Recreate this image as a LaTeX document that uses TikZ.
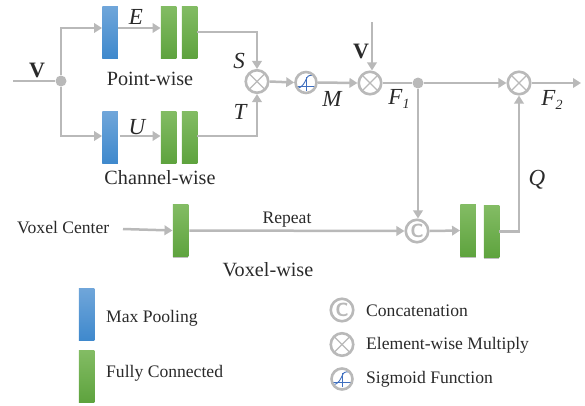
\documentclass[tikz,border=0pt]{standalone}
\usepackage{fontspec}
\setmainfont{Liberation Serif}
\usetikzlibrary{arrows.meta}
\definecolor{ln}{HTML}{B9B9B9}
\definecolor{tx}{HTML}{2A2A2A}
\tikzset{
  blk/.style={minimum width=15.5pt,minimum height=52pt,inner sep=0pt,draw=none,
    preaction={fill=black!55,opacity=.45,transform canvas={yshift=-1.2pt}}},
  bluebk/.style={blk,top color=blue1,bottom color=blue2},
  greenbk/.style={blk,top color=green1,bottom color=green2},
  conn/.style={draw=ln,line width=2.5pt,-{Triangle[length=8pt,width=9.5pt]}},
  plain/.style={draw=ln,line width=2.5pt},
  dot/.style={circle,fill=ln,minimum size=11pt,inner sep=0pt},
  opc/.style={circle,draw=ln,line width=2.6pt,minimum size=22.5pt,inner sep=0pt,fill=white},
  mul/.style={opc,path picture={\draw[ln,line width=1.2pt]
     (path picture bounding box.north west)--(path picture bounding box.south east)
     (path picture bounding box.north east)--(path picture bounding box.south west);}},
  sig/.style={opc,minimum size=21pt,path picture={\draw[sigc,line width=.9pt]
     (path picture bounding box.center)++(-10pt,-3.5pt)--++(20pt,0pt)
     (path picture bounding box.center)++(0pt,-8pt)--++(0pt,14pt);
     \draw[sigc,line width=.9pt] (path picture bounding box.center)++(-9pt,-6pt) to[out=10,in=245] ++(10pt,11pt) to[out=65,in=180] ++(8pt,2pt);}},
  cat/.style={opc,font=\fontsize{19}{19}\selectfont\sffamily\bfseries\color{ln}},
  txt/.style={text=tx,font=\fontsize{17.6}{19}\selectfont,inner sep=0pt},
  big/.style={text=tx,font=\fontsize{20.2}{22}\selectfont,inner sep=0pt},
  sym/.style={text=tx,font=\fontsize{23}{25}\selectfont\itshape,inner sep=0pt},
  vec/.style={text=tx,font=\fontsize{22}{24}\selectfont\bfseries,inner sep=0pt},
}
\definecolor{blue1}{HTML}{70A6DA}
\definecolor{blue2}{HTML}{3F89CD}
\definecolor{green1}{HTML}{83BC64}
\definecolor{green2}{HTML}{5EA33E}
\definecolor{sigc}{HTML}{3F6FBF}
\begin{document}
\begin{tikzpicture}[x=1pt,y=-1pt]
\useasboundingbox (0,0) rectangle (585,405);
% blocks
\node[bluebk]  (b1) at (110,32) {};
\node[greenbk] (g1) at (168.5,32) {};
\node[greenbk] (g2) at (189.5,32) {};
\node[bluebk]  (b2) at (110,137) {};
\node[greenbk] (g3) at (168.5,137) {};
\node[greenbk] (g4) at (189.5,137) {};
\node[greenbk] (g5) at (180.5,230.5) {};
\node[greenbk] (g6) at (468,230.5) {};
\node[greenbk] (g7) at (491.5,231.5) {};
\node[bluebk]  (lb) at (86.5,314) {};
\node[greenbk] (lg) at (86.5,376) {};
% operators
\node[dot] (j1) at (61,81) {};
\node[dot] (j2) at (418,83) {};
\node[mul] (m1) at (257,81.5) {};
\node[sig] (s1) at (306,82.5) {};
\node[mul] (m2) at (370,83) {};
\node[mul] (m3) at (519,83) {};
\node[cat] (c1) at (417,231) {C};
\node[cat] (lc) at (342,310) {C};
\node[mul] (lm) at (342,344.5) {};
\node[sig] (ls) at (342,379) {};
% free ends
\coordinate (in) at (13,81);
\coordinate (vtop) at (372,22);
\coordinate (out) at (581,83);
\coordinate (vc) at (123,229);
% connectors
\draw[plain] (in) -- (j1);
\draw[conn] (j1) |- ([yshift=4pt]b1.west);
\draw[conn] (j1) |- ([yshift=1pt]b2.west);
\draw[conn] ([yshift=4pt]b1.east) -- ([yshift=4pt]g1.west);
\draw[conn] ([xshift=2pt,yshift=1pt]b2.east) -- ([yshift=1pt]g3.west);
\draw[conn] (g2.east) -| (m1.north);
\draw[conn] ([yshift=1pt]g4.east) -| (m1.south);
\draw[conn] (m1.east) -- (s1.west);
\draw[conn] (s1.east) -- (m2.west);
\draw[conn] (vtop) -- (vtop |- m2.north);
\draw[plain] (m2.east) -- (j2);
\draw[conn] (j2) -- (m3.west);
\draw[conn] (m3.east) -- (out);
\draw[conn] (j2) -- (j2 |- c1.north);
\draw[conn] (vc) -- (g5.west);
\draw[conn] ([xshift=1pt]g5.east) -- (c1.west);
\draw[conn] (c1.east) -- (g6.west);
\draw[conn] (g7.east) -| (m3.south);
% labels
\node[vec] (tv1) at (37,70) {V};
\node[vec] (tv2) at (361,51) {V};
\node[sym] (te) at (136,17) {E};
\node[sym] (tu) at (137,127) {U};
\node[sym] (ts) at (239,61) {S};
\node[sym] (tt) at (240,112) {T};
\node[sym] (tm) at (332,99) {M};
\node[sym] (tf1) at (399,99) {F\raisebox{-4pt}{\fontsize{14}{14}\selectfont 1}};
\node[sym] (tf2) at (552,100) {F\raisebox{-4pt}{\fontsize{14}{14}\selectfont 2}};
\node[sym] (tq) at (537,180) {Q};
\node[big] (t1) at (150,79) {Point-wise};
\node[big] (t2) at (160,178) {Channel-wise};
\node[big] (t3) at (268,270) {Voxel-wise};
\node[txt,anchor=west] (t4) at (17,227.5) {Voxel Center};
\node[txt] (t5) at (287,220) {Repeat};
\node[txt,anchor=west] (t6) at (106,318.5) {Max Pooling};
\node[txt,anchor=west] (t7) at (106,373.5) {Fully Connected};
\node[txt,anchor=west] (t8) at (366,311) {Concatenation};
\node[txt,anchor=west] (t9) at (366,345.5) {Element-wise Multiply};
\node[txt,anchor=west] (t10) at (366,379.5) {Sigmoid Function};
\end{tikzpicture}
\end{document}
